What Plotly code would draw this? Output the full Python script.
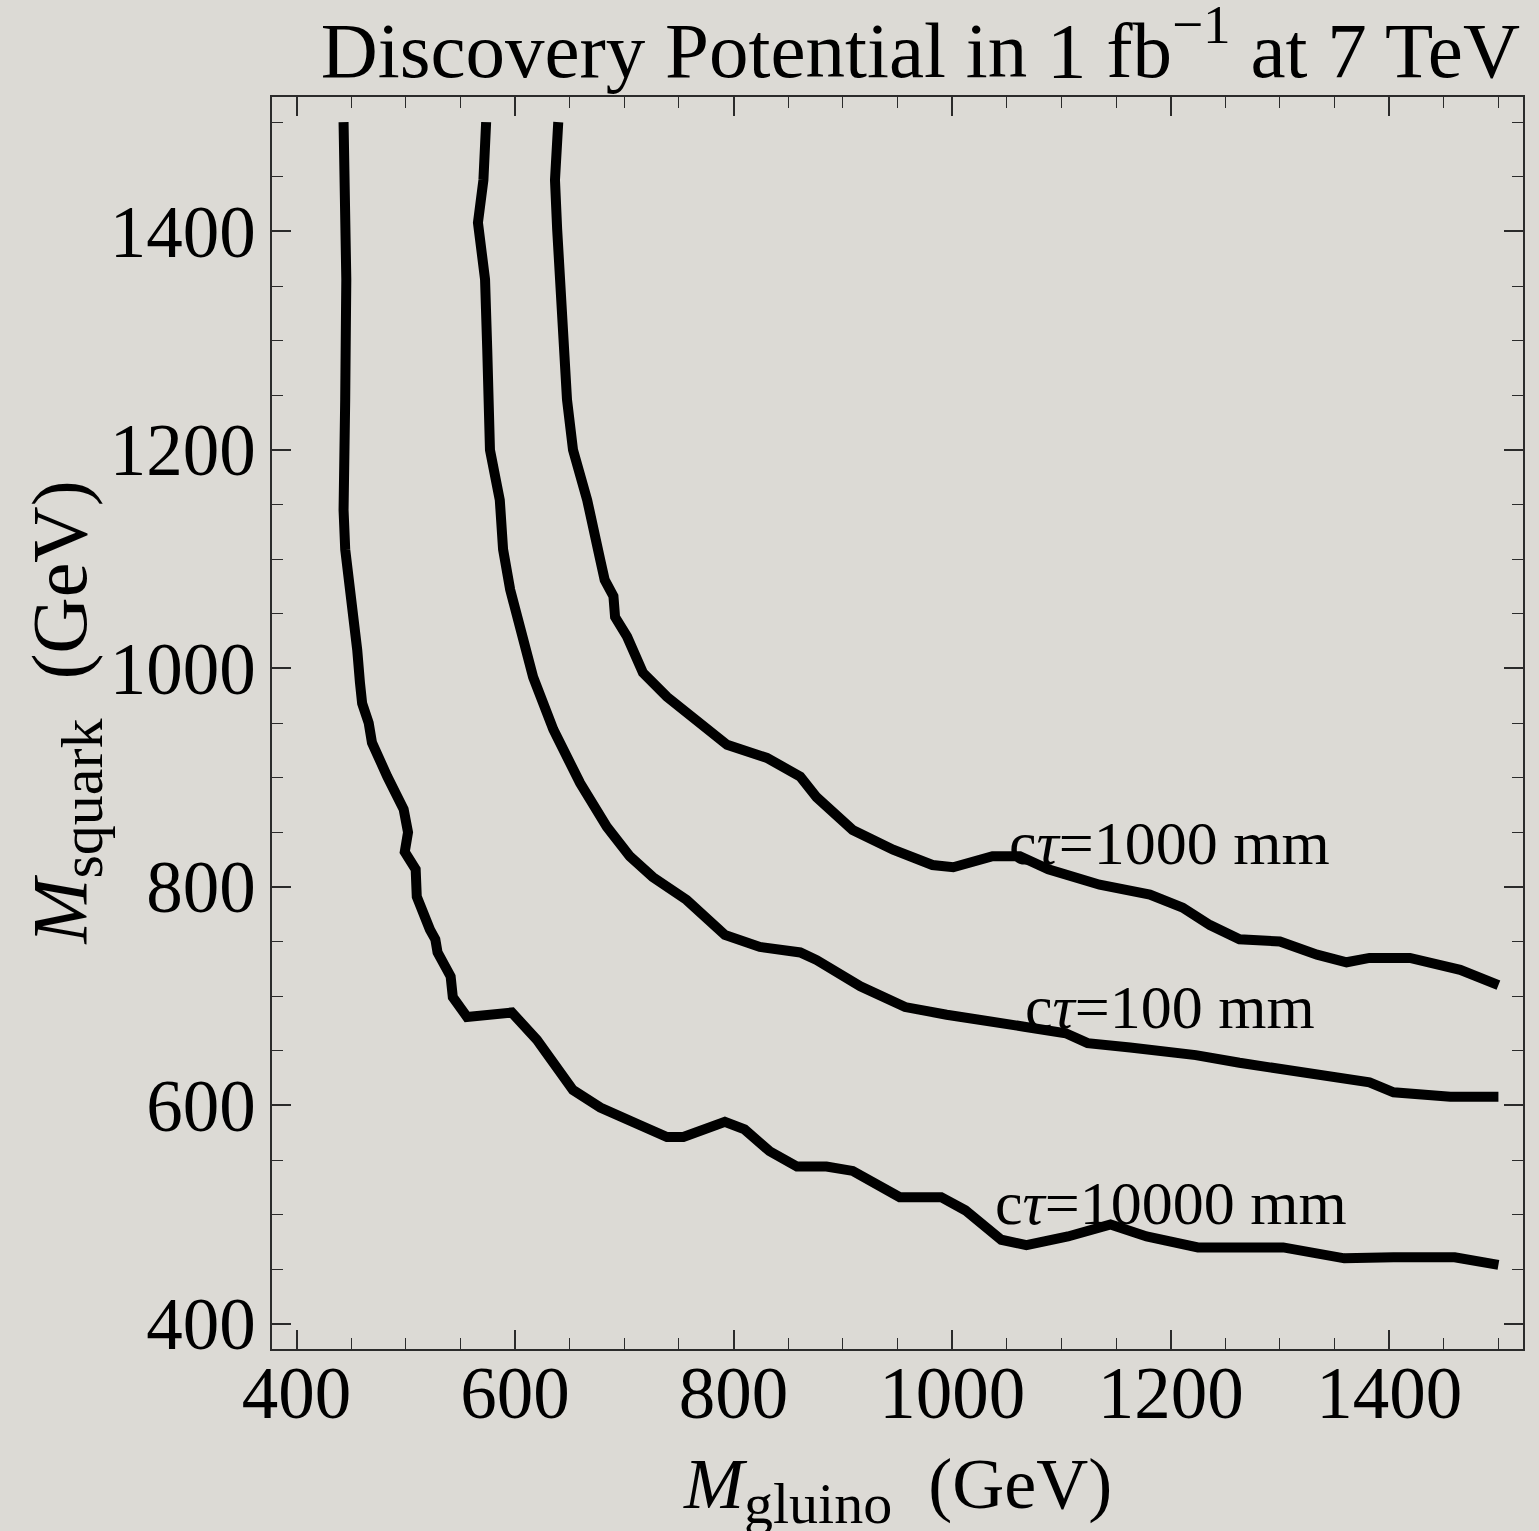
import plotly.graph_objects as go

# ---- data ----
x_10000 = [443, 445.5, 444.5, 443, 443, 444.5, 449, 454, 455.5, 458, 460, 466, 469, 483, 498, 502, 499, 509, 510,
           522, 527, 529, 541, 543, 556, 597, 620, 653, 678, 714, 739, 754, 792, 810, 833, 858, 885, 909, 952,
           990, 1012, 1045, 1068, 1106, 1145, 1178, 1225, 1303, 1359, 1404, 1460, 1500]
y_10000 = [1500, 1356, 1246, 1200, 1145, 1109, 1072, 1042, 1017, 987, 968, 950, 932, 901, 871, 850, 832, 816, 791,
           761, 752, 740, 718, 699, 681, 685, 660, 614, 598, 582, 571, 571, 585, 578, 558, 544, 544, 540, 516,
           516, 504, 477, 472, 480, 491, 480, 470, 470, 460, 461, 461, 454]

x_100 = [573.5, 571, 566, 572.5, 574.5, 576, 577, 586, 589, 595.5, 604.5, 616.5, 635, 659.5, 684, 705, 726, 757,
         792, 824, 861, 876, 916, 957, 995, 1033, 1066, 1104, 1124, 1163, 1184, 1223, 1263, 1302, 1337, 1364,
         1382, 1404, 1456, 1500]
y_100 = [1500, 1447, 1408, 1356, 1292, 1246, 1200, 1154, 1109, 1072, 1039, 992, 944, 895, 855, 828, 809, 788,
         756, 745, 740, 733, 709, 690, 683, 678, 672, 666, 657, 653, 651, 646, 639, 633, 628, 625,
         621, 612, 608, 608]

x_1000 = [639.5, 636.5, 638.5, 641, 644, 647.5, 653, 666, 678, 682, 690, 691.5, 702.5, 708, 717, 739, 766.5, 794,
          830.5, 861, 876, 909, 946, 982, 1001, 1037, 1062, 1088, 1135, 1181, 1211, 1236, 1263, 1300, 1334,
          1361, 1382, 1419, 1465, 1500]
y_1000 = [1500, 1447, 1402, 1356, 1292, 1246, 1200, 1154, 1099, 1081, 1066, 1047, 1029, 1017, 996, 974, 953, 930,
          918, 901, 882, 852, 834, 820, 818, 828, 828, 816, 802, 793, 781, 765, 752, 750, 738,
          731, 735, 735, 724, 710]

labels = ["c<i>τ</i>=1000 mm", "c<i>τ</i>=100 mm", "c<i>τ</i>=10000 mm"]
label_x = [1199, 1199, 1200]
label_y = [840, 690, 511]

tick_vals = [400, 600, 800, 1000, 1200, 1400]

FONT = "Liberation Serif, Times New Roman, serif"
BG = "#dcdad5"
AX = "#2b2b2b"

fig = go.Figure()
for xs, ys in [(x_10000, y_10000), (x_100, y_100), (x_1000, y_1000)]:
    fig.add_trace(go.Scatter(x=xs, y=ys, mode="lines",
                             line=dict(color="black", width=10),
                             showlegend=False, hoverinfo="skip"))

for t, lx, ly in zip(labels, label_x, label_y):
    fig.add_annotation(x=lx, y=ly, xref="x", yref="y", text=t, showarrow=False,
                       xanchor="center", yanchor="middle",
                       font=dict(family=FONT, size=62, color="black"))

axis_common = dict(
    showline=True, linecolor=AX, linewidth=1.5, mirror="allticks",
    ticks="inside", ticklen=19, tickwidth=1.5, tickcolor=AX,
    showgrid=False, zeroline=False,
    tickvals=tick_vals, ticktext=[str(v) for v in tick_vals],
    tickfont=dict(family=FONT, size=73, color="black"),
    minor=dict(ticks="inside", ticklen=11, tickwidth=1.2, tickcolor=AX, dtick=50, tick0=0, showgrid=False),
)

fig.update_layout(
    width=1539, height=1531,
    margin=dict(l=272, r=16, t=97, b=182),
    paper_bgcolor=BG, plot_bgcolor=BG,
    xaxis=dict(range=[377.5, 1522.5], ticklabelstandoff=-20, **axis_common),
    yaxis=dict(range=[377, 1523], **axis_common),
    title=dict(text="Discovery Potential in 1 fb<sup>−1</sup> at 7 TeV",
               x=0.598, xanchor="center", y=0.968, yanchor="middle",
               font=dict(family=FONT, size=79, color="black")),
)

fig.add_annotation(x=0.5, y=-0.113, xref="paper", yref="paper", showarrow=False,
                   text="<i>M</i><sub><span style='font-size:58px'>gluino</span></sub>  (GeV)",
                   xanchor="center", yanchor="middle",
                   font=dict(family=FONT, size=72, color="black"))
fig.add_annotation(x=-0.165, y=0.508, xref="paper", yref="paper", showarrow=False, textangle=-90,
                   text="<i>M</i><sub><span style='font-size:60px'>squark</span></sub>  (GeV)",
                   xanchor="center", yanchor="middle",
                   font=dict(family=FONT, size=78, color="black"))

fig.write_html("out.html",
               config={"displayModeBar": False},
               post_script="document.body.style.margin='0px';"
                           "document.body.style.backgroundColor='#dcdad5';")
